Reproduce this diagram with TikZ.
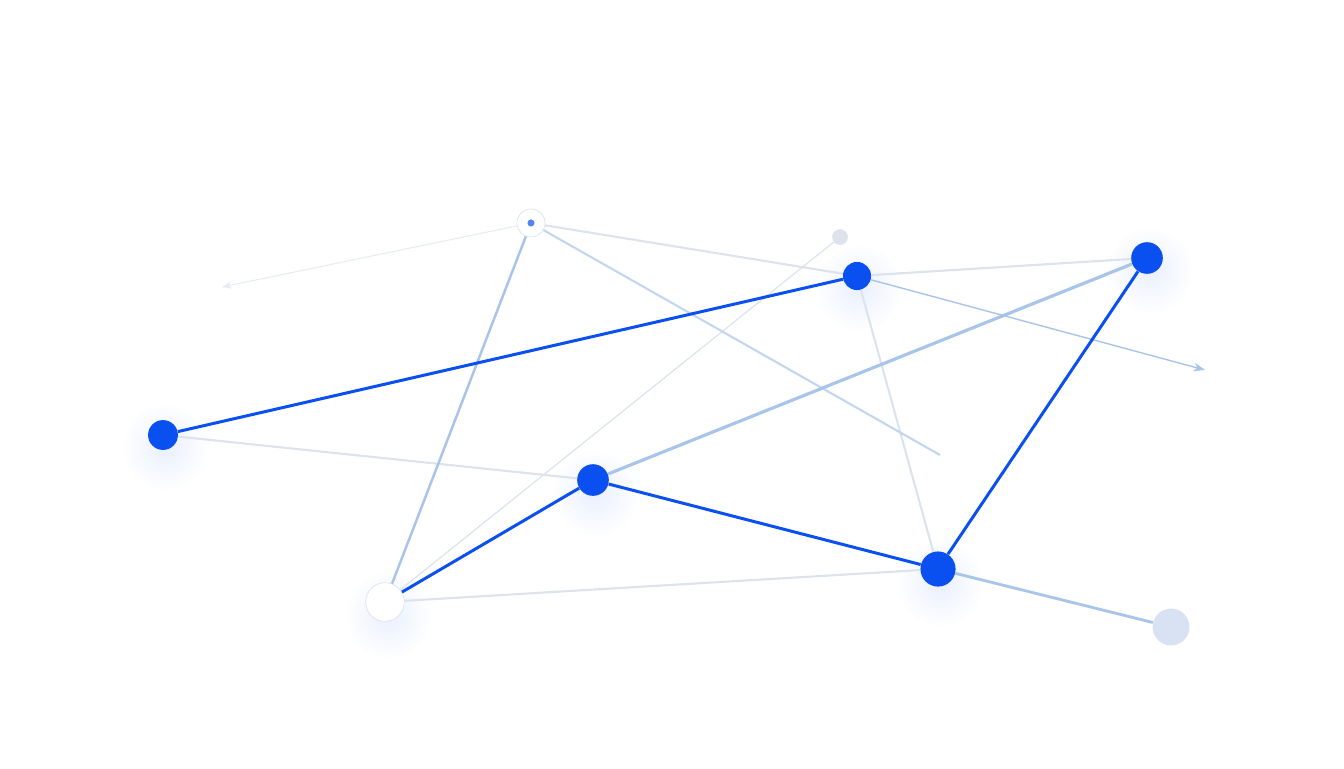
\documentclass[tikz,border=0pt]{standalone}
\usetikzlibrary{arrows.meta}
\usetikzlibrary{positioning}
\definecolor{hub}{HTML}{0A4FEF}
\definecolor{pale}{HTML}{A9C4EA}
\definecolor{mist}{HTML}{DCE3EC}
\definecolor{ghost}{HTML}{D8E2F2}

\begin{document}
\begin{tikzpicture}[x=0.02cm,y=-0.02cm]
\useasboundingbox (0,0) rectangle (1344,768);

% soft glow under the nodes
\begin{scope}[every node/.style={circle,inner color=hub!9,outer color=white,minimum size=50}]
    \node at (165,447) {};
    \node at (859,288) {};
    \node at (1150,270) {};
    \node at (595,493) {};
    \node at (940,583) {};
    \node at (388,615) {};
\end{scope}

\begin{scope}[every node/.style={circle,inner sep=0pt}]
    \node[fill=hub,minimum size=17] (A) at (163,435) {};
    \node[fill=hub,minimum size=16] (B) at (857,276) {};
    \node[fill=hub,minimum size=18] (C) at (1147,258) {};
    \node[fill=hub,minimum size=18] (D) at (593,480) {};
    \node[fill=hub,minimum size=20] (E) at (938,569) {};
    \node[fill=white,draw=mist,minimum size=22] (F) at (385,602) {};
    \node[fill=white,draw=mist,minimum size=16] (G) at (531,223) {};
    \node[fill=mist,minimum size=9] (H) at (840,237) {};
    \node[fill=ghost,minimum size=21] (I) at (1171,627) {};
    \node[fill=hub!70,minimum size=4] (g) at (531,223) {};
\end{scope}
\coordinate (W) at (222,287);
\coordinate (X) at (1205,370);
\coordinate (Y) at (940,455);

\begin{scope}[>={Stealth},
              every edge/.style={draw=mist,line width=1.2pt}]
    \path [-] (A) edge (D);
    \path [-] (F) edge (E);
    \path [-] (G) edge (B);
    \path [-] (B) edge (C);
    \path [-] (B) edge (E);
    \path [-] (F) edge[line width=0.7pt] (H);
    \path [->] (G) edge[draw=mist!70,line width=0.6pt] (W);
    \path [-] (G) edge[draw=pale!70] (Y);
    \path [-] (F) edge[draw=pale,line width=1.4pt] (G);
    \path [-] (D) edge[draw=pale,line width=1.8pt] (C);
    \path [-] (E) edge[draw=pale,line width=1.6pt] (I);
    \path [->] (B) edge[draw=pale,line width=0.8pt] (X);
\end{scope}

\begin{scope}[every edge/.style={draw=hub,line width=1.7pt}]
    \path [-] (A) edge (B);
    \path [-] (D) edge (F);
    \path [-] (D) edge (E);
    \path [-] (E) edge (C);
\end{scope}
\end{tikzpicture}
\end{document}
